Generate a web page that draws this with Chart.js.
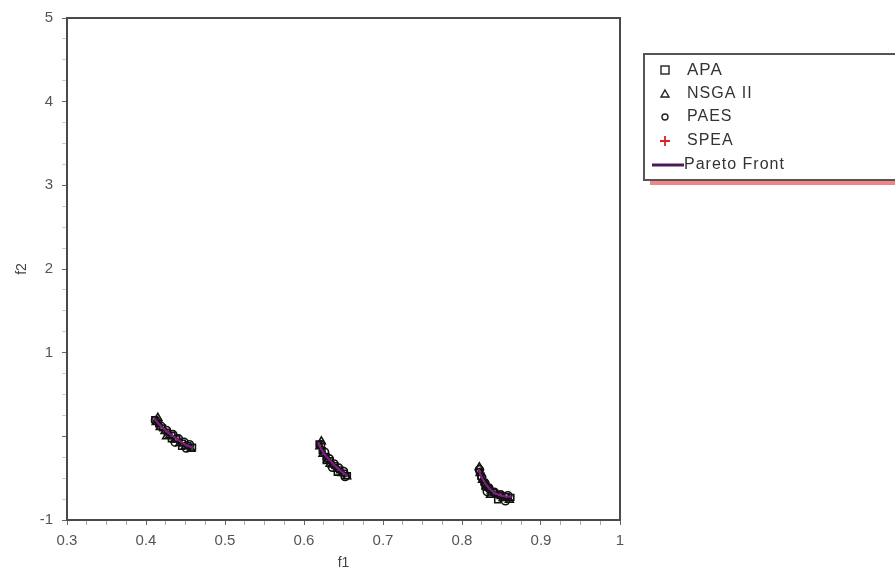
<!DOCTYPE html>
<html>
<head>
<meta charset="utf-8">
<script src="https://cdn.jsdelivr.net/npm/chart.js@4.4.0/dist/chart.umd.min.js"></script>
<style>
    html, body { margin: 0; padding: 0; background: #fff; }
    #wrap { width: 895px; height: 578px; position: relative; }
</style>
</head>
<body>
<div id="wrap"><canvas id="chart"></canvas></div>
<script>
// x range, y range and tick steps
const xRange = [0.3, 1];
const yRange = [-1, 5];
const xStep = 0.025;
const yStep = 0.25;

// Pareto front, three pieces (null breaks the line)
const paretoFront = [
    [0.410, 0.22], [0.415, 0.16], [0.420, 0.11], [0.425, 0.07], [0.430, 0.03], [0.435, 0.00],
    [0.440, -0.04], [0.445, -0.07], [0.450, -0.10], [0.455, -0.12], [0.460, -0.14],
    null,
    [0.618, -0.07], [0.621, -0.14], [0.625, -0.20], [0.630, -0.26], [0.635, -0.31],
    [0.640, -0.36], [0.645, -0.40], [0.650, -0.44], [0.655, -0.47],
    null,
    [0.821, -0.39], [0.823, -0.45], [0.826, -0.51], [0.830, -0.57], [0.835, -0.63],
    [0.842, -0.68], [0.850, -0.71], [0.857, -0.72], [0.863, -0.72]
];

const apa = [
    [0.411, 0.20], [0.416, 0.15], [0.421, 0.10], [0.427, 0.05], [0.433, 0.01], [0.439, -0.03],
    [0.446, -0.08], [0.453, -0.11], [0.459, -0.13], [0.432, -0.03], [0.445, -0.12],
    [0.619, -0.09], [0.623, -0.17], [0.628, -0.24], [0.633, -0.29], [0.639, -0.35], [0.645, -0.40],
    [0.651, -0.44], [0.655, -0.47], [0.628, -0.29], [0.642, -0.43],
    [0.822, -0.42], [0.824, -0.48], [0.828, -0.55], [0.833, -0.61], [0.840, -0.67], [0.848, -0.71],
    [0.856, -0.72], [0.862, -0.73], [0.829, -0.60], [0.845, -0.76]
];

const nsga2 = [
    [0.413, 0.17], [0.418, 0.11], [0.424, 0.06], [0.430, 0.01], [0.437, -0.04], [0.443, -0.08],
    [0.450, -0.12], [0.457, -0.15], [0.415, 0.22], [0.426, 0.00],
    [0.620, -0.12], [0.624, -0.21], [0.630, -0.28], [0.636, -0.34], [0.642, -0.39], [0.648, -0.44],
    [0.654, -0.48], [0.622, -0.06], [0.633, -0.33],
    [0.823, -0.44], [0.826, -0.52], [0.831, -0.59], [0.837, -0.65], [0.844, -0.70], [0.852, -0.74],
    [0.860, -0.76], [0.822, -0.37], [0.836, -0.70]
];

const paes = [
    [0.412, 0.19], [0.419, 0.12], [0.426, 0.07], [0.434, 0.02], [0.441, -0.03], [0.448, -0.07],
    [0.455, -0.10], [0.437, -0.07], [0.451, -0.14],
    [0.621, -0.10], [0.626, -0.19], [0.632, -0.27], [0.638, -0.33], [0.644, -0.38], [0.650, -0.42],
    [0.636, -0.37], [0.652, -0.48],
    [0.822, -0.40], [0.825, -0.49], [0.829, -0.56], [0.834, -0.62], [0.841, -0.67], [0.849, -0.70],
    [0.858, -0.71], [0.832, -0.66], [0.855, -0.77]
];

const spea = [
    [0.414, 0.16], [0.428, 0.04], [0.442, -0.05], [0.452, -0.11],
    [0.622, -0.13], [0.634, -0.30], [0.647, -0.42],
    [0.824, -0.44], [0.834, -0.60], [0.850, -0.71]
];

const legendLabels = ['APA', 'NSGA II', 'PAES', 'SPEA', 'Pareto Front'];

const toXY = arr => arr.map(p => p ? { x: p[0], y: p[1] } : { x: null, y: null });

const FONT = '"Liberation Sans", Arial, sans-serif';

function isMultiple(v, step) {
    return Math.abs(v / step - Math.round(v / step)) < 1e-6;
}

// frame around the plot area
const frame = {
    id: 'frame',
    afterDraw(chart) {
        const { ctx, chartArea: a } = chart;
        ctx.save();
        ctx.strokeStyle = '#4a4a4a';
        ctx.lineWidth = 2;
        ctx.strokeRect(a.left, a.top, a.right - a.left, a.bottom - a.top);
        ctx.restore();
    }
};

// boxed legend on the right
const boxLegend = {
    id: 'boxLegend',
    afterDraw(chart) {
        const ctx = chart.ctx;
        ctx.save();
        ctx.fillStyle = '#f08585';
        ctx.fillRect(650, 181, 245, 4);
        ctx.fillStyle = '#fff';
        ctx.fillRect(643, 53, 260, 127);
        ctx.strokeStyle = '#555';
        ctx.lineWidth = 2;
        ctx.strokeRect(644, 54, 262, 126);

        const ix = 665, tx = 684;
        const rows = [70, 94, 117, 141, 165];
        ctx.lineWidth = 1.4;
        ctx.strokeStyle = '#222';
        ctx.strokeRect(ix - 4, rows[0] - 4, 8, 8);
        ctx.beginPath();
        ctx.moveTo(ix, rows[1] - 4);
        ctx.lineTo(ix + 4, rows[1] + 3);
        ctx.lineTo(ix - 4, rows[1] + 3);
        ctx.closePath();
        ctx.stroke();
        ctx.beginPath();
        ctx.arc(ix, rows[2], 3, 0, Math.PI * 2);
        ctx.stroke();
        ctx.strokeStyle = '#e02020';
        ctx.lineWidth = 1.8;
        ctx.beginPath();
        ctx.moveTo(ix - 5, rows[3]);
        ctx.lineTo(ix + 5, rows[3]);
        ctx.moveTo(ix, rows[3] - 5);
        ctx.lineTo(ix, rows[3] + 5);
        ctx.stroke();
        ctx.strokeStyle = '#4b1a5e';
        ctx.lineWidth = 3;
        ctx.beginPath();
        ctx.moveTo(652, rows[4]);
        ctx.lineTo(684, rows[4]);
        ctx.stroke();

        ctx.fillStyle = '#333';
        ctx.textBaseline = 'middle';
        ctx.letterSpacing = '1px';
        legendLabels.forEach((t, i) => {
            ctx.font = (i === 0 ? '17px' : '16px') + ' ' + FONT;
            ctx.fillText(t, tx + (i === 4 ? 0 : 3), rows[i]);
        });
        ctx.restore();
    }
};

const pointSet = (label, data, style, color, radius) => ({
    label,
    data: toXY(data),
    pointStyle: style,
    pointRadius: radius,
    pointBorderColor: color,
    pointBackgroundColor: 'rgba(0,0,0,0)',
    pointBorderWidth: 1.6,
    showLine: false
});

function initChart() {
    const ctx = document.getElementById('chart').getContext('2d');
    new Chart(ctx, {
        type: 'scatter',
        data: {
            datasets: [
                {
                    label: 'Pareto Front',
                    data: toXY(paretoFront),
                    showLine: true,
                    spanGaps: false,
                    borderColor: '#7b1f82',
                    borderWidth: 2.2,
                    pointRadius: 0,
                    tension: 0
                },
                pointSet('APA', apa, 'rect', '#111', 4),
                pointSet('NSGA II', nsga2, 'triangle', '#111', 4.5),
                pointSet('PAES', paes, 'circle', '#111', 4),
                pointSet('SPEA', spea, 'cross', '#e02020', 4)
            ]
        },
        options: {
            responsive: true,
            maintainAspectRatio: false,
            animation: false,
            layout: { padding: { top: 17, right: 275, bottom: 0, left: 0 } },
            plugins: {
                legend: { display: false },
                tooltip: { enabled: false }
            },
            scales: {
                x: {
                    type: 'linear',
                    min: xRange[0],
                    max: xRange[1],
                    afterFit: s => { s.height = 58; },
                    border: { display: true, color: '#4a4a4a', width: 2 },
                    grid: {
                        drawOnChartArea: false,
                        drawTicks: true,
                        tickLength: 5,
                        tickColor: c => isMultiple(c.tick.value, 0.1) ? '#666' : '#aaa'
                    },
                    ticks: {
                        stepSize: xStep,
                        autoSkip: false,
                        maxRotation: 0,
                        padding: 7,
                        color: '#555',
                        font: { family: FONT, size: 15 },
                        callback: v => isMultiple(v, 0.1) ? String(Math.round(v * 10) / 10) : ''
                    },
                    title: {
                        display: true,
                        text: 'f1',
                        color: '#444',
                        font: { family: FONT, size: 14 },
                        padding: { top: 0, bottom: 6 }
                    }
                },
                y: {
                    type: 'linear',
                    min: yRange[0],
                    max: yRange[1],
                    afterFit: s => { s.width = 67; },
                    border: { display: true, color: '#4a4a4a', width: 2 },
                    grid: {
                        drawOnChartArea: false,
                        drawTicks: true,
                        tickLength: 5,
                        tickColor: c => isMultiple(c.tick.value, 1) ? '#666' : '#ccc'
                    },
                    ticks: {
                        stepSize: yStep,
                        autoSkip: false,
                        padding: 9,
                        color: '#555',
                        font: { family: FONT, size: 15 },
                        callback: v => (isMultiple(v, 1) && Math.round(v) !== 0) ? String(Math.round(v)) : ''
                    },
                    title: {
                        display: true,
                        text: 'f2',
                        color: '#444',
                        font: { family: FONT, size: 14 },
                        padding: { top: 14, bottom: 0 }
                    }
                }
            }
        },
        plugins: [frame, boxLegend]
    });
}

document.addEventListener('DOMContentLoaded', initChart);
</script>
</body>
</html>
